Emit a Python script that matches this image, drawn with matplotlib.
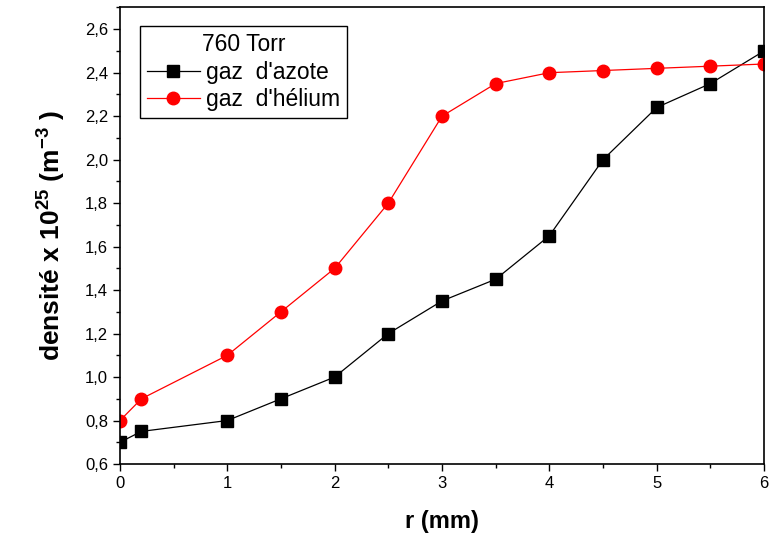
import matplotlib
matplotlib.use('Agg')
import matplotlib.pyplot as plt
from matplotlib.ticker import MultipleLocator, FuncFormatter

plt.rcParams['font.family'] = 'Liberation Sans'
plt.rcParams['mathtext.fontset'] = 'custom'
plt.rcParams['mathtext.bf'] = 'Liberation Sans:bold'
plt.rcParams['mathtext.rm'] = 'Liberation Sans:bold'
plt.rcParams['mathtext.default'] = 'bf'

# data
r = [0, 0.2, 1, 1.5, 2, 2.5, 3, 3.5, 4, 4.5, 5, 5.5, 6]
azote = [0.70, 0.75, 0.80, 0.90, 1.00, 1.20, 1.35, 1.45, 1.65, 2.00, 2.24, 2.35, 2.50]
helium = [0.80, 0.90, 1.10, 1.30, 1.50, 1.80, 2.20, 2.35, 2.40, 2.41, 2.42, 2.43, 2.44]

fig = plt.figure(figsize=(7.71, 5.42), dpi=100)
ax = fig.add_axes([0.1556, 0.1439, 0.8354, 0.8423])

ax.plot(r, azote, 'k-', marker='s', markersize=8, lw=0.9, label="gaz  d'azote")
ax.plot(r, helium, '-', color='red', marker='o', markersize=9, lw=0.9, label="gaz  d'hélium")

ax.set_xlim(0, 6)
ax.set_ylim(0.6, 2.7)
ax.xaxis.set_major_locator(MultipleLocator(1))
ax.xaxis.set_minor_locator(MultipleLocator(0.5))
ax.yaxis.set_major_locator(MultipleLocator(0.2))
ax.yaxis.set_minor_locator(MultipleLocator(0.1))
ax.yaxis.set_major_formatter(FuncFormatter(lambda v, p: ('%.1f' % v).replace('.', ',')))
ax.tick_params(which='major', direction='out', length=5, width=1, labelsize=12)
ax.tick_params(which='minor', direction='out', length=3, width=1)
ax.tick_params(top=False, right=False)
for s in ax.spines.values():
    s.set_linewidth(1.2)

ax.set_xlabel('r (mm)', fontsize=17, fontweight='bold', labelpad=14)
ax.set_ylabel('densité x 10$^{25}$ (m$^{-3}$ )', fontsize=19, fontweight='bold', labelpad=12)

leg = ax.legend(title='760 Torr', loc='upper left', bbox_to_anchor=(0.031, 0.959),
                fontsize=16.5, title_fontsize=16.5, fancybox=False, framealpha=1,
                edgecolor='black', handlelength=2.3, borderpad=0.3, labelspacing=0.2,
                handletextpad=0.3, borderaxespad=0)
leg.get_frame().set_linewidth(1)

fig.savefig('out.png', dpi=100)
